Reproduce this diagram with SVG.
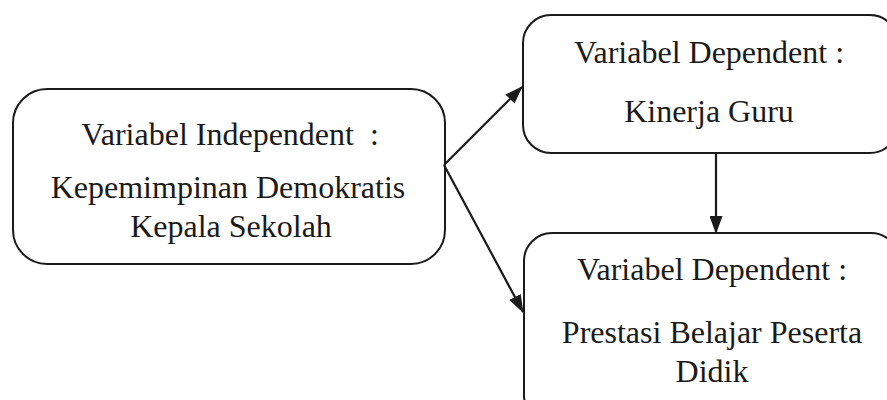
<svg xmlns="http://www.w3.org/2000/svg" width="887" height="400" viewBox="0 0 887 400">
<style>
.box{fill:#fff;stroke:#1a1a1a;stroke-width:2}
.t{font-family:"Liberation Serif","Times New Roman",serif;font-size:32px;fill:#1a1a1a;text-anchor:middle}
.c{stroke:#1a1a1a;stroke-width:2.2;fill:none}
</style>
<defs>
<marker id="ah" viewBox="0 0 18 13" refX="17" refY="6.5" markerWidth="18" markerHeight="13" markerUnits="userSpaceOnUse" orient="auto">
<path d="M0,0 L18,6.5 L0,13 Z" fill="#1a1a1a"/>
</marker>
</defs>
<rect width="887" height="400" fill="#fff"/>
<g id="n-independent">
<rect class="box" x="13" y="89" width="432" height="175" rx="34" ry="34"/>
<text class="t" x="230" y="145" xml:space="preserve">Variabel Independent&#160; :</text>
<text class="t" x="228" y="198">Kepemimpinan Demokratis</text>
<text class="t" x="231" y="237">Kepala Sekolah</text>
</g>
<g id="n-kinerja">
<rect class="box" x="523" y="15" width="375" height="138" rx="28" ry="28"/>
<text class="t" x="709" y="63">Variabel Dependent :</text>
<text class="t" x="709" y="122">Kinerja Guru</text>
</g>
<g id="n-prestasi">
<rect class="box" x="524" y="233" width="375" height="190" rx="28" ry="28"/>
<text class="t" x="712" y="280">Variabel Dependent :</text>
<text class="t" x="712" y="343">Prestasi Belajar Peserta</text>
<text class="t" x="712" y="382">Didik</text>
</g>
<g id="connectors">
<line class="c" x1="444" y1="165" x2="522" y2="87" marker-end="url(#ah)"/>
<line class="c" x1="444" y1="165" x2="523" y2="312" marker-end="url(#ah)"/>
<line class="c" x1="716" y1="153" x2="716" y2="233" marker-end="url(#ah)"/>
</g>
</svg>
